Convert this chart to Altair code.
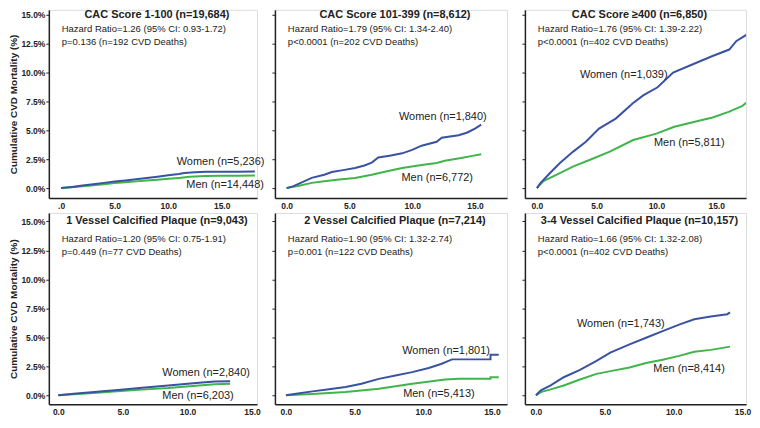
import altair as alt
import pandas as pd

BLUE = "#3a52a3"
GREEN = "#3fb54b"
INK = "#222222"

TITLES = [
    "CAC Score 1-100 (n=19,684)",
    "CAC Score 101-399 (n=8,612)",
    "CAC Score \u2265400 (n=6,850)",
    "1 Vessel Calcified Plaque (n=9,043)",
    "2 Vessel Calcified Plaque (n=7,214)",
    "3-4 Vessel Calcified Plaque (n=10,157)",
]
HR_TEXT = [
    "Hazard Ratio=1.26 (95% CI: 0.93-1.72)",
    "Hazard Ratio=1.79 (95% CI: 1.34-2.40)",
    "Hazard Ratio=1.76 (95% CI: 1.39-2.22)",
    "Hazard Ratio=1.20 (95% CI: 0.75-1.91)",
    "Hazard Ratio=1.90 (95% CI: 1.32-2.74)",
    "Hazard Ratio=1.66 (95% CI: 1.32-2.08)",
]
P_TEXT = [
    "p=0.136 (n=192 CVD Deaths)",
    "p<0.0001 (n=202 CVD Deaths)",
    "p<0.0001 (n=402 CVD Deaths)",
    "p=0.449 (n=77 CVD Deaths)",
    "p=0.001 (n=122 CVD Deaths)",
    "p<0.0001 (n=402 CVD Deaths)",
]
WOMEN_LABELS = ["Women (n=5,236)", "Women (n=1,840)", "Women (n=1,039)",
                "Women (n=2,840)", "Women (n=1,801)", "Women (n=1,743)"]
MEN_LABELS = ["Men (n=14,448)", "Men (n=6,772)", "Men (n=5,811)",
              "Men (n=6,203)", "Men (n=5,413)", "Men (n=8,414)"]

# follow-up years (t) and cumulative CVD mortality in % (v)
P1_T_W = [0, 1, 2, 3, 4, 5, 6, 7, 8, 9, 10, 11, 11.5, 12.5, 13.5, 15, 16.5, 18.1]
P1_V_W = [0, 0.10, 0.22, 0.33, 0.45, 0.57, 0.66, 0.76, 0.87, 0.98, 1.10, 1.22, 1.30, 1.36, 1.42, 1.42, 1.42, 1.43]
P1_T_M = [0, 1, 2, 3, 4, 5, 6, 7, 8, 9, 10, 11, 12, 13.5, 15, 16.5, 18.1]
P1_V_M = [0, 0.07, 0.16, 0.25, 0.34, 0.43, 0.50, 0.58, 0.65, 0.73, 0.80, 0.88, 0.97, 1.05, 1.06, 1.07, 1.08]

P2_T_W = [0, 0.5, 1, 2, 3, 3.6, 4.5, 5.45, 6.2, 6.78, 7.3, 8.2, 9.2, 10, 10.75, 11.95, 12.35, 13.7, 14.4, 15.0, 15.5]
P2_V_W = [0, 0.15, 0.38, 0.88, 1.15, 1.39, 1.55, 1.73, 1.95, 2.20, 2.64, 2.80, 3.00, 3.30, 3.66, 4.00, 4.35, 4.57, 4.80, 5.14, 5.48]
P2_T_M = [0, 1, 2, 3, 4, 5.45, 6.78, 8, 9.2, 10.75, 11.95, 12.6, 13.9, 14.8, 15.5]
P2_V_M = [0, 0.20, 0.45, 0.60, 0.72, 0.88, 1.16, 1.45, 1.73, 2.00, 2.16, 2.36, 2.60, 2.78, 2.93]

P3_T_W = [0, 0.28, 1.1, 1.93, 3.04, 4.1, 5.2, 6.6, 7.8, 8.0, 8.9, 10.1, 11.4, 13.3, 14.7, 16.1, 16.7, 17.8, 18.3]
P3_V_W = [0, 0.41, 1.30, 2.16, 3.15, 4.00, 5.14, 6.00, 7.10, 7.30, 8.00, 8.70, 9.97, 10.8, 11.4, 11.96, 12.7, 13.4, 13.9]
P3_T_M = [0, 0.55, 1.67, 3.06, 4.45, 6.1, 8.06, 10.0, 11.5, 13.3, 14.7, 16.1, 17.2, 17.8, 18.3]
P3_V_M = [0, 0.60, 1.17, 1.88, 2.45, 3.15, 4.15, 4.70, 5.30, 5.75, 6.10, 6.60, 7.10, 7.60, 7.90]

P4_T_W = [0, 1.2, 3, 4.84, 6.5, 8.5, 10.9, 12.1, 13.3]
P4_V_W = [0, 0.14, 0.30, 0.48, 0.66, 0.85, 1.08, 1.19, 1.22]
P4_T_M = [0, 1.2, 3, 4.84, 6.5, 8.5, 10.9, 12.1, 13.3]
P4_V_M = [0, 0.09, 0.22, 0.37, 0.49, 0.62, 0.85, 0.95, 1.00]

P5_T_W = [0, 1, 1.93, 3, 4.35, 5.5, 6.77, 7.98, 9.2, 10.4, 11.3, 12.1, 14.9, 14.9, 15.5]
P5_V_W = [0, 0.18, 0.34, 0.50, 0.71, 1.00, 1.42, 1.70, 2.00, 2.36, 2.70, 3.10, 3.10, 3.50, 3.50]
P5_T_M = [0, 1.93, 4.35, 6.77, 9.2, 11.6, 12.6, 14.9, 14.9, 15.5]
P5_V_M = [0, 0.11, 0.28, 0.57, 1.00, 1.36, 1.42, 1.42, 1.56, 1.56]

P6_T_W = [0, 0.36, 1.07, 2.02, 3.2, 4.4, 5.4, 6.8, 8.0, 9.2, 10.4, 11.5, 12.7, 13.9, 14.1]
P6_V_W = [0, 0.43, 0.85, 1.56, 2.20, 2.98, 3.69, 4.40, 4.97, 5.54, 6.10, 6.56, 6.80, 7.00, 7.16]
P6_T_M = [0, 0.36, 1.07, 2.02, 3.2, 4.4, 5.6, 6.8, 8.0, 9.2, 10.4, 11.5, 12.7, 14.1]
P6_V_M = [0, 0.28, 0.51, 0.85, 1.36, 1.85, 2.13, 2.40, 2.78, 3.07, 3.40, 3.75, 3.92, 4.20]

SERIES = [
    (P1_T_W, P1_V_W, P1_T_M, P1_V_M),
    (P2_T_W, P2_V_W, P2_T_M, P2_V_M),
    (P3_T_W, P3_V_W, P3_T_M, P3_V_M),
    (P4_T_W, P4_V_W, P4_T_M, P4_V_M),
    (P5_T_W, P5_V_W, P5_T_M, P5_V_M),
    (P6_T_W, P6_V_W, P6_T_M, P6_V_M),
]

# annotation anchor points (data units: years, %) for the series labels
LABEL_AT = [
    ((10.8, 2.24), (11.7, 0.26)),
    ((8.95, 6.14), (9.15, 0.88)),
    ((3.6, 9.75), (9.8, 3.86)),
    ((8.05, 1.90), (8.05, -0.09)),
    ((8.47, 3.84), (8.54, 0.14)),
    ((2.98, 6.11), (8.53, 2.28)),
]

# layout: x domain, panel width
X_DOMAINS = [(-1.15, 18.3), (-0.93, 17.55), (-1.0, 17.5),
             (-0.73, 15.38), (-0.8, 16.1), (-0.8, 15.26)]
COL_W = [209, 233, 222]
ROW_H = [189, 192]
ROW_YDOM = [(-0.86, 15.39), (-0.77, 15.73)]
TITLE_Y = [5.5, 8]
STATS_Y = [14, 21]

Y_TICKS = [0, 2.5, 5, 7.5, 10, 12.5, 15]
X_TICKS = [0, 5, 10, 15]

SANS = "Liberation Sans, Arial, Helvetica, sans-serif"
NARROW = "Liberation Sans Narrow, Arial Narrow, Liberation Sans, sans-serif"


def panel(k):
    row = k // 3
    col = k % 3
    left = col == 0
    tw, vw, tm, vm = SERIES[k]
    recs = []
    for i, (t, v) in enumerate(zip(tm, vm)):
        recs.append({"t": t, "v": v, "sex": "Men", "i": i})
    for i, (t, v) in enumerate(zip(tw, vw)):
        recs.append({"t": t, "v": v, "sex": "Women", "i": i})
    df = pd.DataFrame(recs)

    xs = alt.Scale(domain=list(X_DOMAINS[k]), nice=False, zero=False)
    ys = alt.Scale(domain=list(ROW_YDOM[row]), nice=False, zero=False)

    if k == 0:
        xlab = "datum.value == 0 ? '.0' : format(datum.value, '.1f')"
    else:
        xlab = "format(datum.value, '.1f')"
    xaxis = alt.Axis(values=X_TICKS, labelExpr=xlab, ticks=False, grid=False,
                     title=None, labelPadding=3, labelFontSize=8.5,
                     labelFontWeight="bold", labelColor=INK, labelFont=SANS,
                     domainColor=INK, domainWidth=1.5)
    if left:
        yaxis = alt.Axis(values=Y_TICKS,
                         labelExpr="format(datum.value, '.1f') + '%'",
                         title="Cumulative CVD Mortality (%)", titleFontSize=10,
                         titleFontWeight="bold", titleColor=INK, titleFont=SANS,
                         titlePadding=2, tickSize=3, tickColor=INK, tickWidth=1,
                         grid=False, labelPadding=1, labelFontSize=8.5,
                         labelFontWeight="bold", labelColor=INK, labelFont=SANS,
                         domainColor=INK, domainWidth=1.5)
    else:
        yaxis = alt.Axis(values=Y_TICKS, labels=False, title=None, tickSize=3,
                         tickColor=INK, tickWidth=1, grid=False,
                         domainColor=INK, domainWidth=1.5)

    x_enc = alt.X("t:Q", scale=xs, axis=xaxis)
    y_enc = alt.Y("v:Q", scale=ys, axis=yaxis)

    lines = alt.Chart(df).mark_line(strokeWidth=2, clip=True).encode(
        x=x_enc, y=y_enc,
        color=alt.Color("sex:N", scale=alt.Scale(domain=["Women", "Men"],
                                                 range=[BLUE, GREEN]),
                        legend=None),
        order=alt.Order("i:Q"),
    )

    (wx, wy), (mx, my) = LABEL_AT[k]
    lab_df = pd.DataFrame({"t": [wx, mx], "v": [wy, my],
                           "label": [WOMEN_LABELS[k], MEN_LABELS[k]]})
    labels = alt.Chart(lab_df).mark_text(
        align="left", baseline="middle", fontSize=11, font=SANS, color=INK
    ).encode(x=x_enc, y=y_enc, text="label:N")

    w = COL_W[col]
    title = alt.Chart(pd.DataFrame({"s": [TITLES[k]]})).mark_text(
        align="center", baseline="middle", fontSize=11, fontWeight="bold",
        font=SANS, color=INK
    ).encode(x=alt.value(w / 2 + 4), y=alt.value(TITLE_Y[row]), text="s:N")

    stats = alt.Chart(pd.DataFrame({"s": [HR_TEXT[k] + "\n" + P_TEXT[k]]})).mark_text(
        align="left", baseline="top", fontSize=9.5, font=NARROW, color=INK,
        lineBreak="\n", lineHeight=13
    ).encode(x=alt.value(13), y=alt.value(STATS_Y[row]), text="s:N")

    return alt.layer(lines, labels, title, stats).properties(
        width=w, height=ROW_H[row])


chart = alt.concat(*[panel(k) for k in range(6)], columns=3, spacing={"row": 15, "column": 18},
                   bounds="flush", padding=0).configure_view(
    stroke=None).configure(background="white")

chart.save("out.html", embed_options={"renderer": "svg", "actions": False})
